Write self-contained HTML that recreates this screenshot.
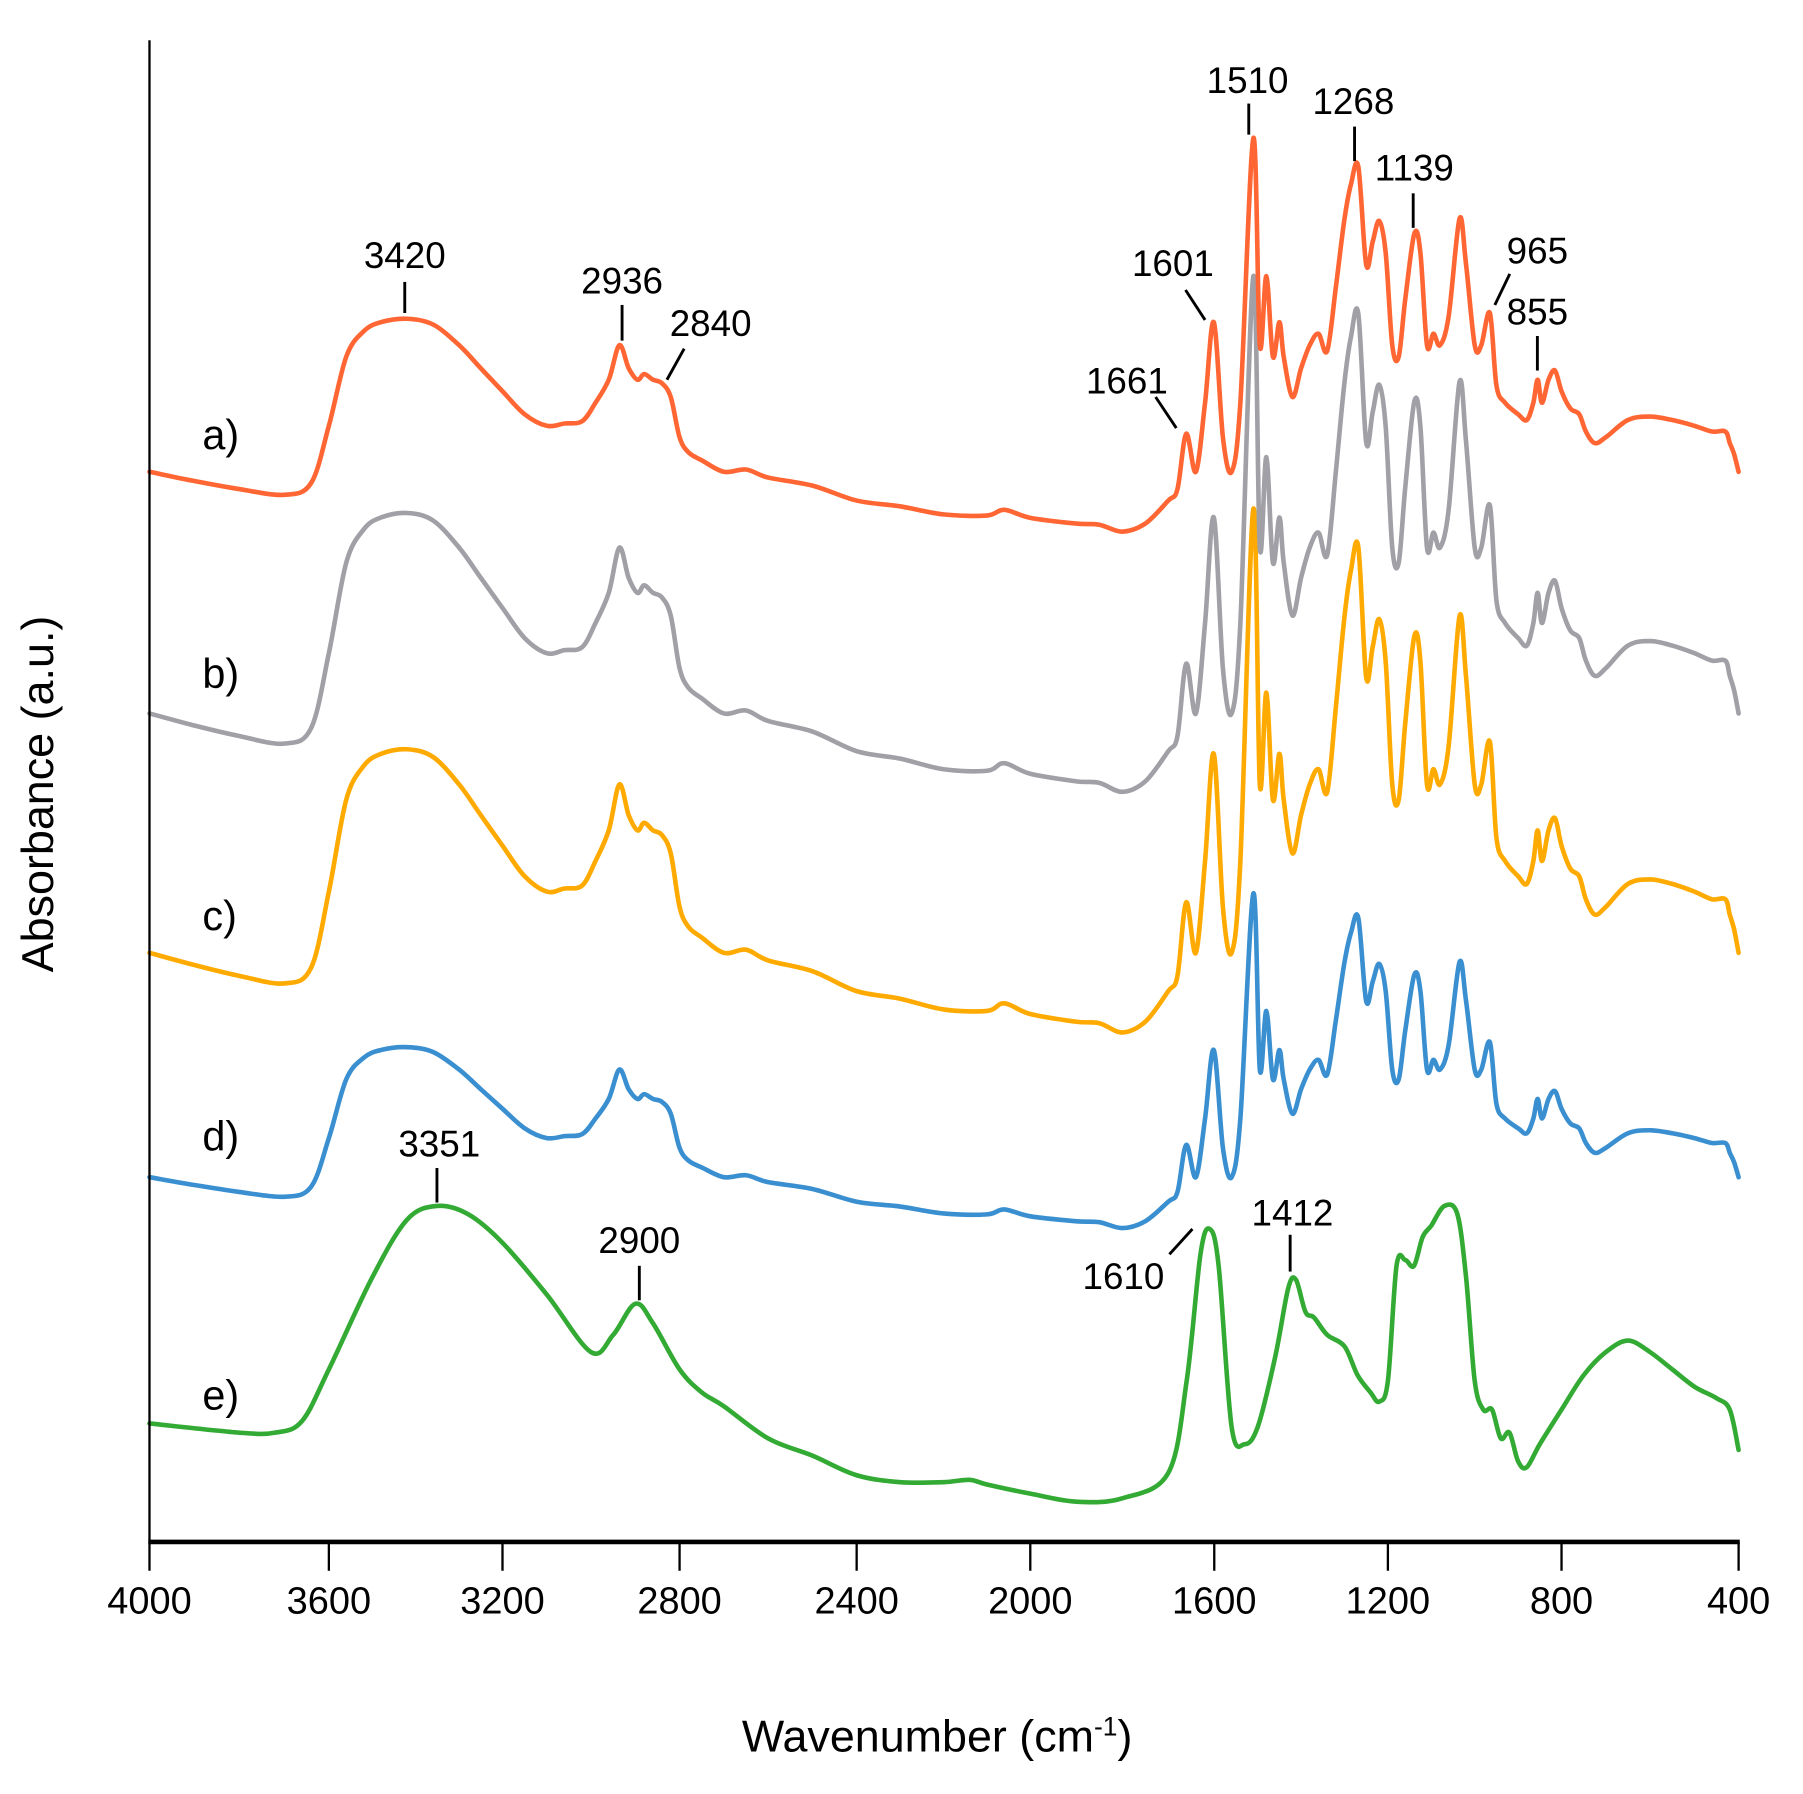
<!DOCTYPE html>
<html><head><meta charset="utf-8"><style>
html,body{margin:0;padding:0;background:#fff;}
svg{display:block;}
text{font-family:"Liberation Sans",Arial,sans-serif;fill:#000;}
</style></head><body>
<svg id="s" width="1803" height="1794" viewBox="0 0 1568 1559" preserveAspectRatio="none" xmlns="http://www.w3.org/2000/svg">
<g id="curves" fill="none" stroke-width="4" stroke-linejoin="round" stroke-linecap="round"></g>
<g stroke="#000" stroke-width="2" fill="none">
<line x1="130" y1="35" x2="130" y2="1340"/>
</g>
<line x1="129" y1="1340" x2="1513" y2="1340" stroke="#000" stroke-width="4"/>
<g stroke="#000" stroke-width="2">
<line x1="130" y1="1340" x2="130" y2="1365"/><line x1="286" y1="1340" x2="286" y2="1365"/>
<line x1="437" y1="1340" x2="437" y2="1365"/><line x1="591" y1="1340" x2="591" y2="1365"/>
<line x1="745" y1="1340" x2="745" y2="1365"/><line x1="896" y1="1340" x2="896" y2="1365"/>
<line x1="1056" y1="1340" x2="1056" y2="1365"/><line x1="1207" y1="1340" x2="1207" y2="1365"/>
<line x1="1358" y1="1340" x2="1358" y2="1365"/><line x1="1512" y1="1340" x2="1512" y2="1365"/>
</g>
<g font-size="33" text-anchor="middle">
<text x="130" y="1402">4000</text><text x="286" y="1402">3600</text><text x="437" y="1402">3200</text>
<text x="591" y="1402">2800</text><text x="745" y="1402">2400</text><text x="896" y="1402">2000</text>
<text x="1056" y="1402">1600</text><text x="1207" y="1402">1200</text><text x="1358" y="1402">800</text>
<text x="1512" y="1402">400</text>
</g>
<text x="815" y="1522" font-size="39" text-anchor="middle">Wavenumber (cm<tspan font-size="23" dy="-14">-1</tspan><tspan dy="14">)</tspan></text>
<text transform="translate(46,690) rotate(-90)" font-size="39" text-anchor="middle">Absorbance (a.u.)</text>
<g font-size="36">
<text x="176" y="390">a)</text><text x="176" y="598">b)</text><text x="176" y="808">c)</text>
<text x="176" y="1000">d)</text><text x="176" y="1225">e)</text>
</g>
<g font-size="32" text-anchor="middle">
<text x="352" y="233">3420</text><text x="541" y="255">2936</text><text x="618" y="292">2840</text>
<text x="980" y="342">1661</text><text x="1020" y="240">1601</text><text x="1085" y="81">1510</text>
<text x="1177" y="99">1268</text><text x="1230" y="157">1139</text><text x="1337" y="229">965</text>
<text x="1337" y="282">855</text><text x="382" y="1005">3351</text><text x="556" y="1089">2900</text>
<text x="977" y="1120">1610</text><text x="1124" y="1065">1412</text>
</g>
<g stroke="#000" stroke-width="2.5">
<line x1="352" y1="245" x2="352" y2="272"/><line x1="541" y1="265" x2="541" y2="296"/>
<line x1="595" y1="303" x2="580" y2="330"/><line x1="1005" y1="345" x2="1023" y2="372"/>
<line x1="1031" y1="252" x2="1048" y2="278"/><line x1="1086" y1="90" x2="1086" y2="117"/>
<line x1="1178" y1="110" x2="1178" y2="140"/><line x1="1229" y1="168" x2="1229" y2="198"/>
<line x1="1313" y1="238" x2="1300" y2="265"/><line x1="1337" y1="292" x2="1337" y2="322"/>
<line x1="380" y1="1015" x2="380" y2="1045"/><line x1="556" y1="1100" x2="556" y2="1130"/>
<line x1="1017" y1="1090" x2="1037" y2="1068"/><line x1="1122" y1="1073" x2="1122" y2="1105"/>
</g>
</svg>
<script>
(function(){
var tk=[[4000,130],[3600,286],[3200,437],[2800,591],[2400,745],[2000,896],[1600,1056],[1200,1207],[800,1358],[400,1512]];
function X(w){for(var i=0;i<tk.length-1;i++){var a=tk[i],b=tk[i+1];if(w<=a[0]&&w>=b[0])return a[1]+(a[0]-w)/(a[0]-b[0])*(b[1]-a[1]);}return w>4000?130:1512;}
var A=[[4000,410],[3900,418],[3800,425],[3700,430],[3640,420],[3600,370],[3560,310],[3520,288],[3480,280],[3420,277],[3360,282],[3300,300],[3250,320],[3200,340],[3150,360],[3100,370],[3060,368],[3020,366],[2990,350],[2960,330],[2936,300],[2915,320],[2895,330],[2880,325],[2860,330],[2840,333],[2820,345],[2800,380],[2780,393],[2750,400],[2700,410],[2650,408],[2600,415],[2500,422],[2400,435],[2300,440],[2200,447],[2100,448],[2060,443],[2000,450],[1900,455],[1850,456],[1800,462],[1750,455],[1700,435],[1680,425],[1661,377],[1640,410],[1620,350],[1601,280],[1580,380],[1560,410],[1540,350],[1510,120],[1495,300],[1480,240],[1465,310],[1450,280],[1440,310],[1420,345],[1400,320],[1380,300],[1360,290],[1340,305],[1320,250],[1300,190],[1285,160],[1268,145],[1250,230],[1235,210],[1220,192],[1205,220],[1190,300],[1175,310],[1160,260],[1139,203],[1125,220],[1110,300],[1095,290],[1080,300],[1060,275],[1035,190],[1020,230],[1000,300],[985,300],[965,272],[950,335],[930,350],[900,360],[880,365],[865,350],[855,330],[845,350],[830,330],[815,322],[800,340],[780,355],[760,360],[745,375],[725,385],[700,380],[650,365],[600,362],[550,365],[500,370],[460,375],[430,375],[420,385],[410,395],[400,410]];
var E=[[4000,1237],[3800,1245],[3720,1245],[3660,1235],[3600,1190],[3500,1110],[3420,1060],[3351,1048],[3280,1055],[3200,1080],[3100,1125],[3000,1175],[2950,1160],[2900,1133],[2860,1150],[2800,1190],[2750,1210],[2700,1222],[2600,1250],[2500,1265],[2400,1282],[2300,1288],[2200,1288],[2140,1286],[2100,1290],[2000,1298],[1900,1305],[1800,1302],[1700,1280],[1660,1200],[1630,1090],[1610,1068],[1590,1100],[1560,1240],[1530,1255],[1500,1240],[1460,1180],[1430,1120],[1412,1112],[1390,1140],[1370,1145],[1340,1160],[1300,1170],[1270,1195],[1240,1210],[1220,1218],[1200,1200],[1180,1100],[1160,1095],[1140,1100],[1120,1075],[1100,1065],[1070,1048],[1040,1055],[1020,1110],[1000,1200],[980,1225],[960,1225],[940,1250],[920,1245],[900,1270],[880,1275],[850,1255],[800,1225],[750,1195],[700,1175],[650,1165],[600,1175],[550,1190],[500,1205],[450,1215],[420,1225],[400,1260]];
function path(pts){var p=pts.map(function(q){return[X(q[0]),q[1]];});var d="M"+p[0][0].toFixed(1)+","+p[0][1].toFixed(1);
for(var i=0;i<p.length-1;i++){var p0=p[i-1]||p[i],p1=p[i],p2=p[i+1],p3=p[i+2]||p2;
var c1x=p1[0]+(p2[0]-p0[0])/6,c1y=p1[1]+(p2[1]-p0[1])/6,c2x=p2[0]-(p3[0]-p1[0])/6,c2y=p2[1]-(p3[1]-p1[1])/6;
d+="C"+c1x.toFixed(1)+","+c1y.toFixed(1)+" "+c2x.toFixed(1)+","+c2y.toFixed(1)+" "+p2[0].toFixed(1)+","+p2[1].toFixed(1);}return d;}
function tr(y0,s){return A.map(function(q){return[q[0],y0+(q[1]-410)*s];});}
var series=[[tr(1023,0.85),"#3a8fd0"],[tr(828,1.33),"#ffaa00"],[tr(620,1.31),"#a0a0a6"],[A,"#ff6633"],[E,"#33aa33"]];
var g=document.getElementById("curves"),ns="http://www.w3.org/2000/svg";
series.forEach(function(s){var e=document.createElementNS(ns,"path");e.setAttribute("d",path(s[0]));e.setAttribute("stroke",s[1]);g.appendChild(e);});
})();
</script>
</body></html>
